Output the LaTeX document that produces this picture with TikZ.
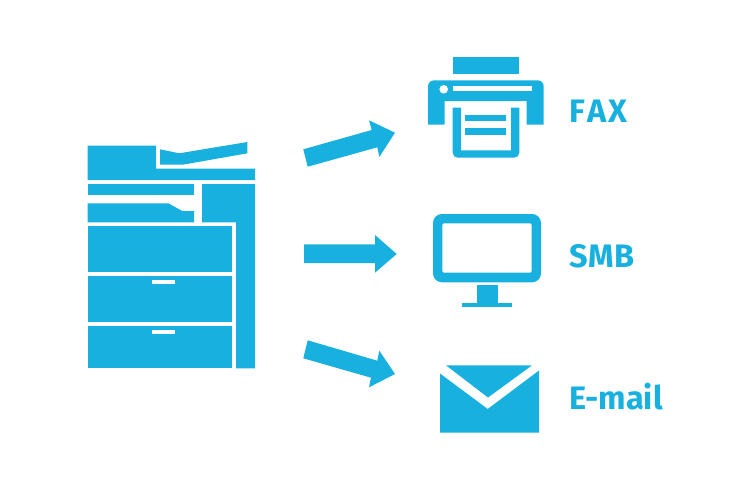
\documentclass[tikz,border=0pt]{standalone}
\usepackage{fontspec}
\setmainfont{Fira Sans}
\definecolor{iconblue}{HTML}{18B1DF}
\tikzset{
  icon/.style={fill=iconblue,draw=none},
  gap/.style={fill=white,draw=none},
  lbl/.style={text=iconblue,font=\fontsize{32.5}{32.5}\selectfont\bfseries,anchor=base west,inner sep=0pt,outer sep=0pt}
}
\begin{document}
\begin{tikzpicture}[x=1pt,y=-1pt]
\useasboundingbox (0,0) rectangle (750,488);
\fill[white] (0,0) rectangle (750,488);
% copier
\fill[icon] (87.5,145.5) -- (156,145.5) -- (156,168.7) -- (255,168.7) -- (255,180) -- (87.5,180) -- cycle;
\fill[icon] (160,149.3) -- (179.3,153.3) -- (247.3,142) -- (247.3,153.3) -- (182.7,164.7) -- (160,164.7) -- cycle;
\fill[icon] (87.5,184) rectangle (194,195.3);
\fill[icon] (87.5,203.3) -- (168.3,203.3) -- (182.3,211) -- (194,211) -- (194,222.3) -- (87.5,222.3) -- cycle;
\fill[icon] (202,184) -- (255,184) -- (255,368.3) -- (236,368.3) -- (236,222.3) -- (202,222.3) -- cycle;
\fill[icon] (87.5,226.3) rectangle (232.3,272);
\fill[icon] (87.5,276) rectangle (232.3,322.3);
\fill[icon] (87.5,326) rectangle (232.3,368.3);
\fill[gap] (152.3,280) rectangle (175,284);
\fill[gap] (152.3,330) rectangle (175,334);
% arrows
\fill[icon] (303.3,149.3) -- (371.7,130) -- (369,120.3) -- (395,132.7) -- (379.3,157) -- (377.3,147.3) -- (307.7,166.7) -- cycle;
\fill[icon] (304,244.3) -- (375,244.3) -- (375,235) -- (396.7,254) -- (375,272.7) -- (375,263) -- (304,263) -- cycle;
\fill[icon] (307.7,340.3) -- (377.3,360.7) -- (379.3,350.7) -- (395,374) -- (369,387.3) -- (371,377.7) -- (303.3,358.3) -- cycle;
% printer
\fill[icon] (453.3,57) rectangle (518.7,74.3);
\fill[icon] (428,124.7) -- (428,86.3) arc[start angle=180,end angle=270,radius=6] -- (537.7,80.3) arc[start angle=270,end angle=360,radius=6] -- (543.7,124.7) -- (526.7,124.7) -- (526.7,101) -- (444.7,101) -- (444.7,124.7) -- cycle;
\fill[gap] (453.3,86) rectangle (531.7,91);
\fill[gap] (443.7,89.3) circle[radius=4.3];
\fill[icon] (452.7,107.7) -- (461,107.7) -- (461,150.3) -- (511,150.3) -- (511,107.7) -- (519.3,107.7) -- (519.3,152.7) arc[start angle=0,end angle=90,radius=5] -- (457.7,157.7) arc[start angle=90,end angle=180,radius=5] -- cycle;
\fill[icon] (465,114.7) rectangle (506.3,121);
\fill[icon] (465,128) rectangle (506.3,134.7);
% monitor
\fill[icon,rounded corners=9pt] (433,214) rectangle (541,282.3);
\fill[gap,rounded corners=2pt] (442.3,223.3) rectangle (531.7,272.7);
\fill[icon] (476.7,285.3) rectangle (497.7,302.7);
\fill[icon] (462.3,302.7) rectangle (511.7,306.7);
% mail
\fill[icon] (440,373.5) -- (487.7,409) -- (539,370.5) -- (539,432.7) -- (440,432.7) -- cycle;
\fill[icon] (446,365.3) -- (532,365.3) -- (488,397.5) -- cycle;
% labels
\node[lbl] (fax) at (569.5,122.7) {F\kern2pt A\kern2.5pt X};
\node[lbl] (smb) at (569,267.4) {S\kern0.5pt M\kern0.5pt B};
\node[lbl] (email) at (569,409) {E-mail};
\end{tikzpicture}
\end{document}
